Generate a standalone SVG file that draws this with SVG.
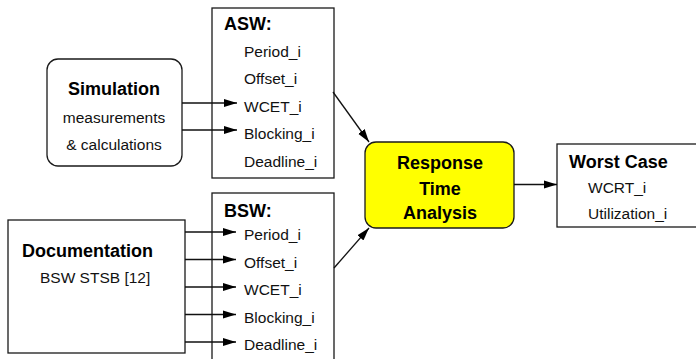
<svg xmlns="http://www.w3.org/2000/svg" width="696" height="359" viewBox="0 0 696 359">
<style>
.box{fill:#fff;stroke:#1a1a1a;stroke-width:1.3}
.b{font-family:"Liberation Sans",Arial,sans-serif;font-weight:bold;font-size:18px;fill:#000}
.t{font-family:"Liberation Sans",Arial,sans-serif;font-size:15.5px;fill:#111}
.c{text-anchor:middle}
.ln{stroke:#111;stroke-width:1.3;fill:none;marker-end:url(#ah)}
</style>
<defs>
<marker id="ah" markerWidth="14" markerHeight="9" refX="13" refY="4.5" orient="auto" markerUnits="userSpaceOnUse">
<path d="M0,0.5 L13,4.5 L0,8.5 Z" fill="#000"/>
</marker>
</defs>
<rect x="0" y="0" width="696" height="359" fill="#fff"/>
<g id="simulation">
<rect class="box" x="47" y="59" width="135" height="107" rx="11"/>
<text class="b c" x="114" y="95">Simulation</text>
<text class="t c" x="114" y="123">measurements</text>
<text class="t c" x="114" y="150">&amp; calculations</text>
</g>
<g id="asw">
<rect class="box" x="212" y="8" width="122" height="170"/>
<text class="b" x="224" y="30">ASW:</text>
<text class="t" x="244" y="56.5">Period_i</text>
<text class="t" x="244" y="84">Offset_i</text>
<text class="t" x="244" y="111.5">WCET_i</text>
<text class="t" x="244" y="139">Blocking_i</text>
<text class="t" x="244" y="166.5">Deadline_i</text>
</g>
<g id="documentation">
<rect class="box" x="8" y="220" width="177" height="133"/>
<text class="b" x="22" y="257">Documentation</text>
<text class="t" x="40" y="283">BSW STSB [12]</text>
</g>
<g id="bsw">
<rect class="box" x="212" y="193" width="122" height="175"/>
<text class="b" x="224" y="217">BSW:</text>
<text class="t" x="244" y="240">Period_i</text>
<text class="t" x="244" y="267.5">Offset_i</text>
<text class="t" x="244" y="295">WCET_i</text>
<text class="t" x="244" y="322.5">Blocking_i</text>
<text class="t" x="244" y="350">Deadline_i</text>
</g>
<g id="rta">
<rect x="365" y="142" width="149" height="86" rx="11" fill="#ffff00" stroke="#1a1a1a" stroke-width="1.3"/>
<text class="b c" x="440" y="169">Response</text>
<text class="b c" x="440" y="195">Time</text>
<text class="b c" x="440" y="219">Analysis</text>
</g>
<g id="worstcase">
<rect class="box" x="557" y="144" width="145" height="83"/>
<text class="b" x="569" y="168">Worst Case</text>
<text class="t" x="588" y="193">WCRT_i</text>
<text class="t" x="588" y="219">Utilization_i</text>
</g>
<g id="connectors">
<line class="ln" x1="182" y1="103" x2="237" y2="103"/>
<line class="ln" x1="182" y1="130" x2="237" y2="130"/>
<line class="ln" x1="185" y1="232" x2="236" y2="232"/>
<line class="ln" x1="185" y1="259.5" x2="236" y2="259.5"/>
<line class="ln" x1="185" y1="287" x2="236" y2="287"/>
<line class="ln" x1="185" y1="314.5" x2="236" y2="314.5"/>
<line class="ln" x1="185" y1="342" x2="236" y2="342"/>
<line class="ln" x1="333" y1="92" x2="369" y2="142"/>
<line class="ln" x1="334" y1="268" x2="369" y2="228"/>
<line class="ln" x1="514" y1="184.5" x2="557" y2="184.5"/>
</g>
</svg>
